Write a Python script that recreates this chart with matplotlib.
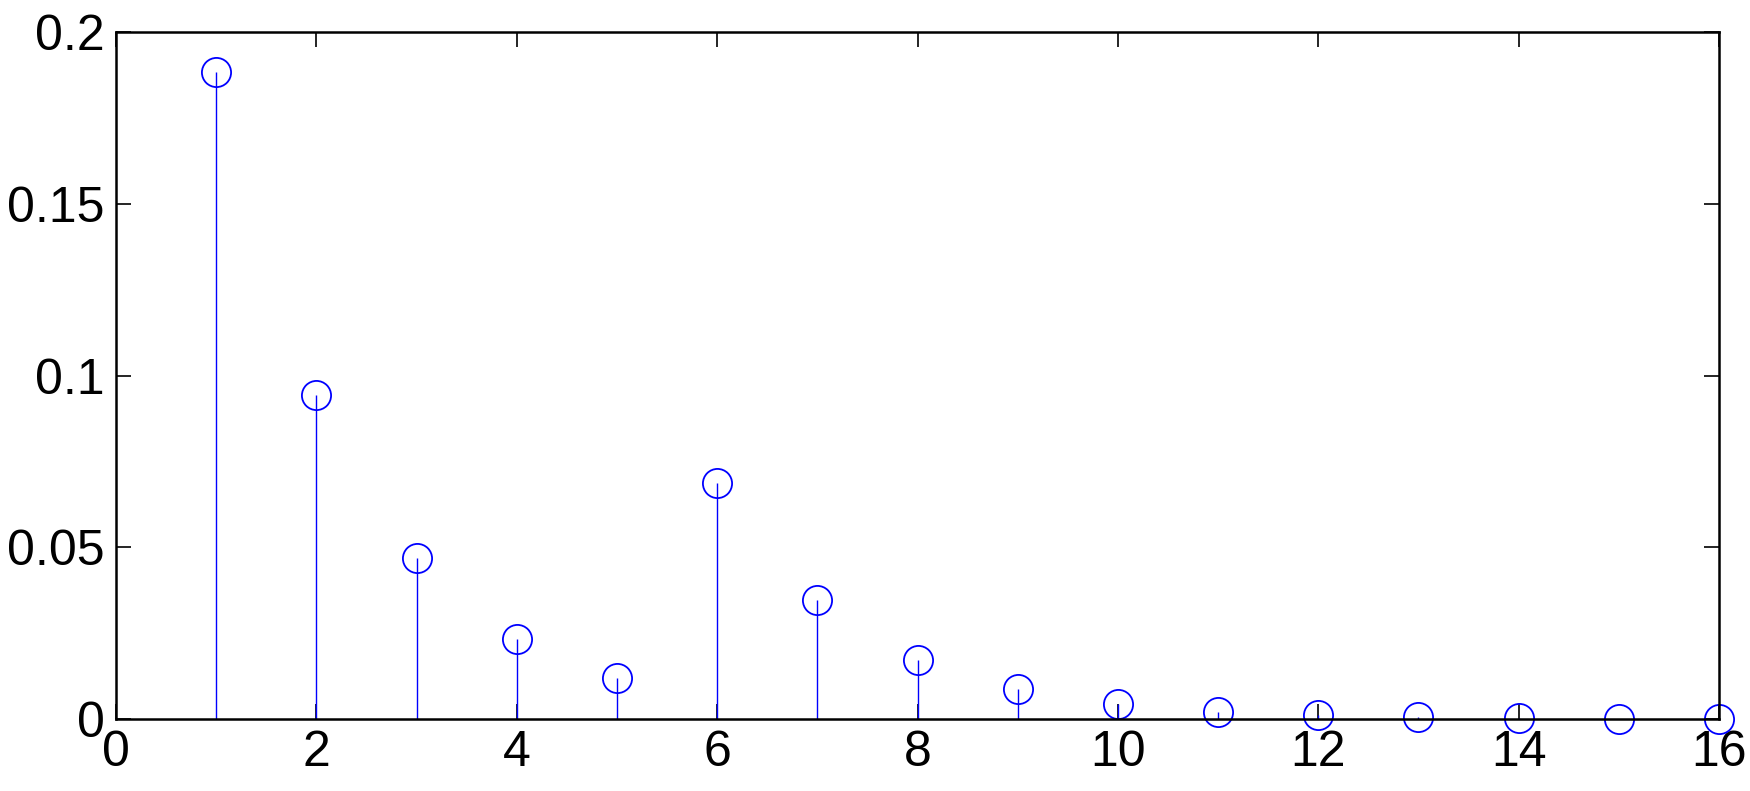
"""
Stem plot of harmonic amplitudes, MATLAB-style look.
"""

import numpy as np
import matplotlib
matplotlib.use('Agg')
import matplotlib.pyplot as plt

# Data
k = [1, 2, 3, 4, 5, 6, 7, 8, 9, 10, 11, 12, 13, 14, 15, 16]
amp = [0.1884, 0.0943, 0.0470, 0.0234, 0.0119, 0.0688, 0.0345, 0.0173,
       0.0087, 0.0043, 0.0021, 0.0011, 0.0005, 0.0003, 0.0001, 0.0001]

x_ticks = [0, 2, 4, 6, 8, 10, 12, 14, 16]
y_ticks = [0, 0.05, 0.1, 0.15, 0.2]
y_labels = ['0', '0.05', '0.1', '0.15', '0.2']

plt.rcParams['font.family'] = ['Liberation Sans', 'DejaVu Sans']

fig = plt.figure(figsize=(17.5, 7.91), dpi=100)
ax = fig.add_axes([116/1750, 1 - 719/791, (1719-116)/1750, (719-32)/791])

markerline, stemlines, baseline = ax.stem(k, amp, basefmt=' ')
plt.setp(stemlines, color='#0000ff', linewidth=1.0)
plt.setp(markerline, marker='o', markersize=21, markerfacecolor='none',
         markeredgecolor='#0000ff', markeredgewidth=1.3, clip_on=False)

ax.set_xlim(0, 16)
ax.set_ylim(0, 0.2)
ax.set_xticks(x_ticks)
ax.set_yticks(y_ticks)
ax.set_yticklabels(y_labels)

ax.tick_params(direction='in', length=11, width=1.2, top=True, right=True,
               labelsize=36, pad=8)
for s in ax.spines.values():
    s.set_linewidth(1.8)

fig.savefig('out.png', dpi=100)
